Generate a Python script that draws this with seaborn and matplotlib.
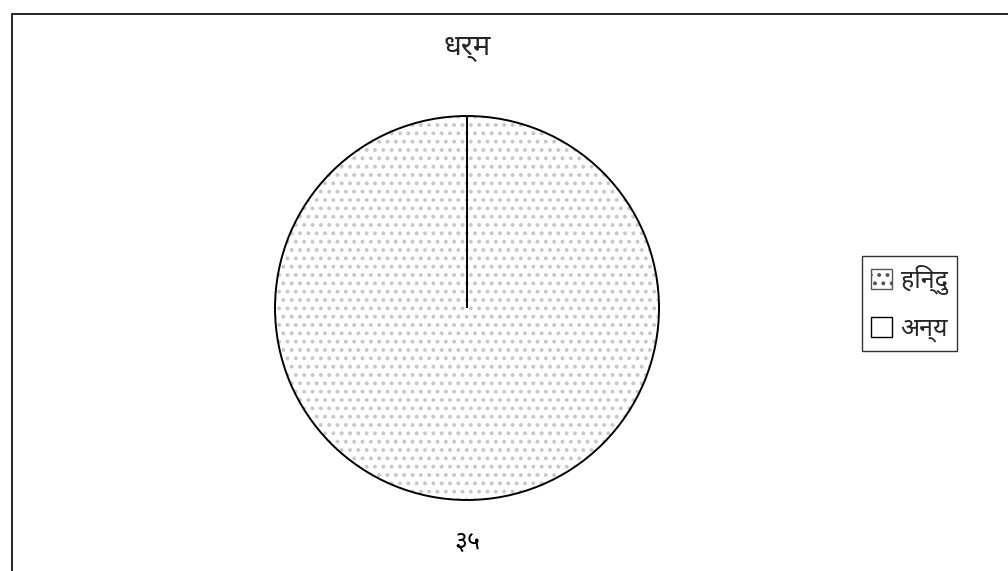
import matplotlib
matplotlib.use("Agg")
import matplotlib.pyplot as plt
from matplotlib import font_manager, ft2font
from matplotlib.patches import Rectangle, Patch
import seaborn as sns

# data
title = "धर्म"
categories = ["हिन्दु", "अन्य"]
values = [35, 0]
value_labels = ["३५", ""]

sns.set_theme(style="white")
plt.rcParams["hatch.linewidth"] = 1.6

# pick a font that has Devanagari glyphs, preferring Mangal-like ones
deva_fonts = set()
for f in font_manager.fontManager.ttflist:
    try:
        if 0x0927 in ft2font.FT2Font(f.fname).get_charmap():
            deva_fonts.add(f.name)
    except Exception:
        pass
preferred = ["Noto Sans Devanagari", "Noto Serif Devanagari", "Hind", "Mukta",
             "Annapurna SIL", "Amiko"]
deva_font = next((p for p in preferred if p in deva_fonts), None)
if deva_font is None and deva_fonts:
    deva_font = sorted(deva_fonts)[0]
families = ([deva_font] if deva_font else []) + ["DejaVu Sans"]
plt.rcParams["font.family"] = families

fig = plt.figure(figsize=(10.08, 5.71), dpi=100)
ax = fig.add_axes([0.2252, 0.0403, 0.4762, 0.8406])

# hatched fill first, then a black outline on top
wedges, _ = ax.pie(values, startangle=90, counterclock=False,
                   wedgeprops=dict(facecolor="white", edgecolor="#c8c8c8",
                                   hatch="..", linewidth=0))
ax.pie(values, startangle=90, counterclock=False, labels=value_labels,
       labeldistance=1.22,
       textprops=dict(fontsize=18, color="black", ha="center", va="center"),
       wedgeprops=dict(facecolor="none", edgecolor="black", linewidth=1.4))
wedges[1].set_hatch("")

fig.text(467 / 1008, 1 - 48 / 571, title, fontsize=21, fontweight="bold",
         ha="center", va="center")

handles = [Patch(facecolor="white", edgecolor="#555555", hatch="..", label=categories[0]),
           Patch(facecolor="white", edgecolor="black", label=categories[1])]
leg = fig.legend(handles=handles, loc="center left", bbox_to_anchor=(0.855, 0.4685),
                 fontsize=18, frameon=True, fancybox=False, edgecolor="black",
                 handlelength=0.85, handleheight=0.85, labelspacing=0.85,
                 borderpad=0.35, handletextpad=0.35, borderaxespad=0)
leg.get_frame().set_linewidth(1.0)

# outer chart border
fig.patches.append(Rectangle((12 / 1008, -0.05), 1.2, 1.05 - 14 / 571,
                             transform=fig.transFigure, fill=False,
                             edgecolor="black", linewidth=1.2))

fig.savefig("out.png", dpi=100)
